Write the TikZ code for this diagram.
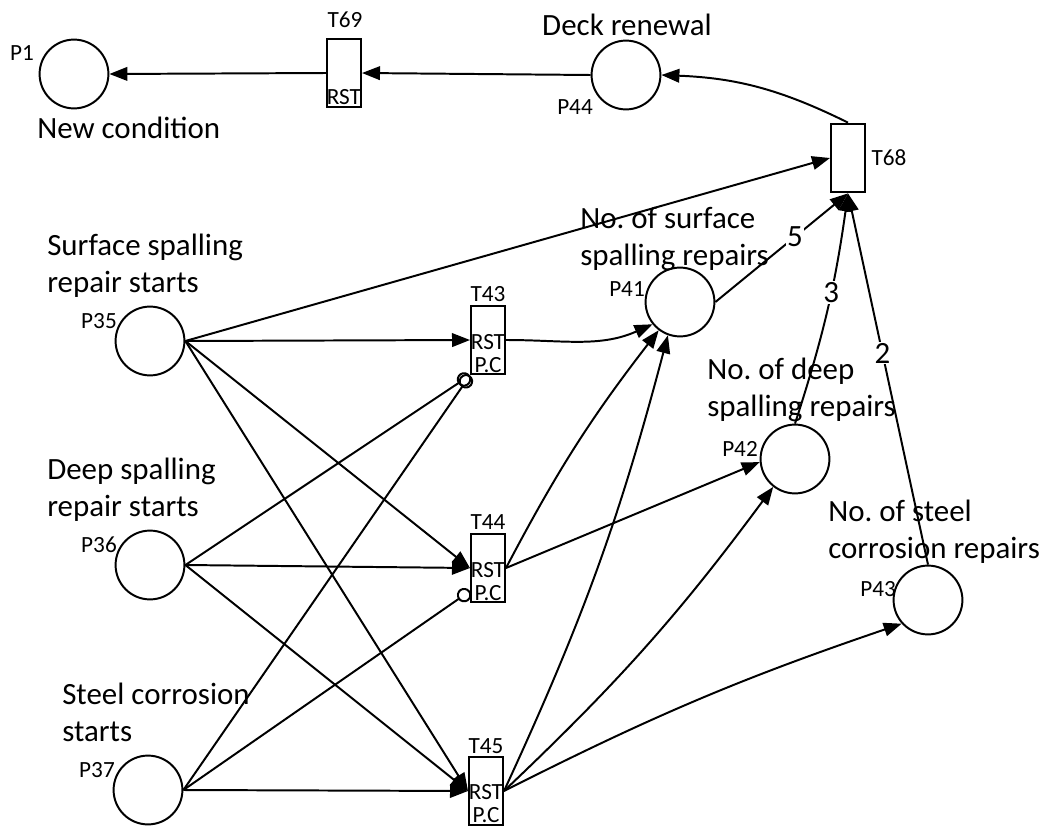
\documentclass[tikz,border=0pt]{standalone}
\usepackage{fontspec}
\setmainfont{Carlito}
\usetikzlibrary{arrows.meta}

\tikzset{
  place/.style={circle, draw, line width=1.4pt, minimum size=1.72cm, inner sep=0pt},
  trans/.style={rectangle, draw, line width=1.4pt, minimum width=0.85cm, minimum height=1.72cm, inner sep=0pt},
  flow/.style={line width=1.4pt, -{Triangle[length=0.45cm,width=0.34cm]}},
  inhib/.style={line width=1.4pt, -{Circle[open,length=0.36cm]}},
  tag/.style={font=\fontsize{16.5}{19}\selectfont, inner sep=0pt},
  txt/.style={font=\fontsize{22}{26}\selectfont, align=left, inner sep=0pt},
  wgt/.style={font=\fontsize{22}{26}\selectfont, fill=white, inner sep=1pt}
}

\begin{document}
\frenchspacing
\begin{tikzpicture}[x=0.025cm, y=0.025cm]
  \useasboundingbox (0,0) rectangle (1054,-829);

  % places
  \node[place] (p1) at (74,-74) {};
  \node[place] (p44) at (626,-75) {};
  \node[place] (p35) at (150,-341) {};
  \node[place] (p36) at (150,-565) {};
  \node[place] (p37) at (148,-790) {};
  \node[place] (p41) at (680,-302) {};
  \node[place] (p42) at (795,-459) {};
  \node[place] (p43) at (928,-600) {};

  % transitions
  \node[trans] (t69) at (344,-73) {};
  \node[trans] (t68) at (848,-158) {};
  \node[trans] (t43) at (488,-340) {};
  \node[trans] (t44) at (488,-568) {};
  \node[trans] (t45) at (486,-791) {};

  % small tags
  \node[tag] at (22,-53) {P1};
  \node[tag] at (345,-20) {T69};
  \node[tag] at (344,-97) {RST};
  \node[tag] at (575,-107) {P44};
  \node[tag] at (889,-158) {T68};
  \node[tag] at (488,-294) {T43};
  \node[tag] at (488,-342) {RST};
  \node[tag] at (488,-365) {P.C};
  \node[tag] at (488,-522) {T44};
  \node[tag] at (488,-570) {RST};
  \node[tag] at (488,-593) {P.C};
  \node[tag] at (486,-746) {T45};
  \node[tag] at (486,-792) {RST};
  \node[tag] at (486,-815) {P.C};
  \node[tag] at (99,-321) {P35};
  \node[tag] at (99,-545) {P36};
  \node[tag] at (97,-770) {P37};
  \node[tag] at (627,-289) {P41};
  \node[tag] at (740,-449) {P42};
  \node[tag] at (878,-589) {P43};

  % texts
  \node[txt, anchor=base west] at (37,-138) {New condition};
  \node[txt, anchor=base] at (627,-35) {Deck renewal};
  \node[txt, anchor=base west] at (47,-292) {Surface spalling\\repair starts};
  \node[txt, anchor=base west] at (47,-516) {Deep spalling\\repair starts};
  \node[txt, anchor=base west] at (62,-741) {Steel corrosion\\starts};
  \node[txt, anchor=base west] at (580,-265) {No. of surface\\spalling repairs};
  \node[txt, anchor=base west] at (707,-416) {No. of deep\\spalling repairs};
  \node[txt, anchor=base west] at (828,-558) {No. of steel\\corrosion repairs};

  % top row
  \draw[flow] (t69.west) -- (p1.east);
  \draw[flow] (p44.west) -- (t69.east);
  \draw[flow] (t68.north) to[bend right=12] (p44.east);

  % into T68
  \draw[flow] (p35.east) -- (t68.west);
  \draw[flow] (p41.east) -- node[wgt, pos=0.6] {5} (t68.south);
  \draw[flow] (p42.north) to[bend right=5] node[wgt, pos=0.58] {3} (t68.south);
  \draw[flow] (p43.north) -- node[wgt, pos=0.57] {2} (t68.south);

  % into T43, T44, T45
  \draw[flow] (p35.east) -- (t43.west);
  \draw[flow] (p35.east) -- (t44.west);
  \draw[flow] (p35.east) -- (t45.west);
  \draw[inhib] (p36.east) -- (t43.south west);
  \draw[flow] (p36.east) -- (t44.west);
  \draw[flow] (p36.east) -- (t45.west);
  \draw[inhib] (p37.east) -- (t43.south west);
  \draw[inhib] (p37.east) -- ([yshift=-0.575cm]t44.west);
  \draw[flow] (p37.east) -- (t45.west);

  % out of T43, T44, T45
  \draw[flow] (t43.east) to[out=0, in=204] (p41.219);
  \draw[flow] (t44.east) to[bend left=5] (p41.233);
  \draw[flow] (t45.east) to[bend right=5] (p41.250);
  \draw[flow] (t44.east) -- (p42.185);
  \draw[flow] (t45.east) to[bend right=5] (p42.232);
  \draw[flow] (t45.east) to[bend left=4] (p43.222);
\end{tikzpicture}
\end{document}
